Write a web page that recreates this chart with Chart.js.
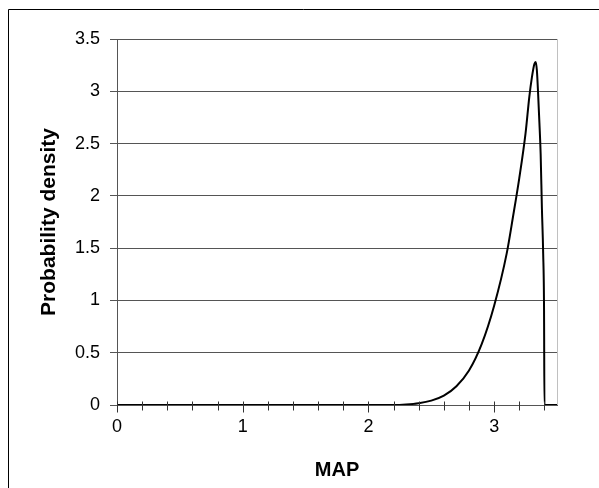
<!DOCTYPE html>
<html>
<head>
<meta charset="utf-8">
<script src="https://cdn.jsdelivr.net/npm/chart.js@4"></script>
<style>
  html, body { margin: 0; padding: 0; background: #fff; }
  canvas { display: block; }
</style>
</head>
<body>
<canvas id="densityChart" width="599" height="488"></canvas>
<script>
    // values
    const mapValues = [0, 0.5, 1, 1.5, 2, 2.2, 2.3, 2.4, 2.5, 2.6, 2.7, 2.8, 2.9, 3.0, 3.1, 3.15, 3.2,
      3.25, 3.28, 3.3, 3.32, 3.33, 3.34, 3.35, 3.36, 3.37, 3.38, 3.39, 3.397, 3.4, 3.45, 3.5];
    const densityValues = [0, 0, 0, 0, 0, 0, 0.005, 0.017, 0.042, 0.09, 0.18, 0.33, 0.58, 0.95, 1.45, 1.8, 2.17,
      2.6, 2.95, 3.13, 3.26, 3.28, 3.2, 2.97, 2.7, 2.4, 1.88, 1.45, 0.9, 0, 0, 0];
    const xTickValues = [0, 0.2, 0.4, 0.6, 0.8, 1, 1.2, 1.4, 1.6, 1.8, 2, 2.2, 2.4, 2.6, 2.8, 3, 3.2, 3.4];
    const yTickValues = [0, 0.5, 1, 1.5, 2, 2.5, 3, 3.5];

    const points = mapValues.map((x, i) => ({ x: x, y: densityValues[i] }));
    const isWhole = v => Math.abs(v - Math.round(v)) < 1e-6;

    // outer frame, plot-area right edge and the crossing x tick marks
    const framePlugin = {
      id: 'frame',
      beforeDraw(chart) {
        const ctx = chart.ctx;
        ctx.save();
        ctx.fillStyle = '#fff';
        ctx.fillRect(0, 0, chart.width, chart.height);
        ctx.strokeStyle = '#000';
        ctx.lineWidth = 1;
        ctx.beginPath();
        ctx.moveTo(8.5, chart.height);
        ctx.lineTo(8.5, 9.5);
        ctx.lineTo(chart.width, 9.5);
        ctx.stroke();
        const a = chart.chartArea;
        ctx.strokeStyle = '#c0c0c0';
        ctx.beginPath();
        ctx.moveTo(a.right + 0.5, a.top);
        ctx.lineTo(a.right + 0.5, a.bottom);
        ctx.stroke();
        ctx.restore();
      },
      afterDraw(chart) {
        const ctx = chart.ctx;
        const xs = chart.scales.x;
        const y0 = Math.round(chart.scales.y.getPixelForValue(0)) + 0.5;
        ctx.save();
        ctx.strokeStyle = '#333';
        ctx.lineWidth = 1;
        ctx.beginPath();
        xTickValues.forEach(v => {
          const px = Math.round(xs.getPixelForValue(v)) + 0.5;
          ctx.moveTo(px, y0 - 4);
          ctx.lineTo(px, y0 + (isWhole(v) ? 7 : 5));
        });
        ctx.stroke();
        ctx.restore();
      }
    };

    new Chart(document.getElementById('densityChart'), {
      type: 'line',
      data: {
        datasets: [{
          data: points,
          borderColor: '#000',
          borderWidth: 2,
          pointRadius: 0,
          fill: false,
          cubicInterpolationMode: 'monotone'
        }]
      },
      options: {
        responsive: false,
        devicePixelRatio: 1,
        animation: false,
        layout: { padding: { left: 0, top: 39, right: 42, bottom: 0 } },
        plugins: {
          legend: { display: false },
          tooltip: { enabled: false }
        },
        scales: {
          x: {
            type: 'linear',
            min: 0,
            max: 3.5,
            afterBuildTicks: s => { s.ticks = xTickValues.map(v => ({ value: v })); },
            afterFit: s => { s.height = 83; },
            grid: { display: false, drawTicks: false },
            border: { display: true, color: '#555', width: 1 },
            ticks: {
              autoSkip: false,
              maxRotation: 0,
              padding: 11,
              color: '#000',
              font: { family: 'Liberation Sans', size: 18 },
              callback: v => isWhole(v) ? String(Math.round(v)) : ''
            },
            title: {
              display: true,
              text: 'MAP',
              color: '#000',
              font: { family: 'Liberation Sans', size: 20, weight: 'bold' },
              padding: { top: 0, bottom: 6 }
            }
          },
          y: {
            min: 0,
            max: 3.5,
            afterBuildTicks: s => { s.ticks = yTickValues.map(v => ({ value: v })); },
            afterFit: s => { s.width = 117; },
            grid: { color: '#555', tickLength: 7 },
            border: { display: true, color: '#555', width: 1 },
            ticks: {
              padding: 10,
              color: '#000',
              font: { family: 'Liberation Sans', size: 18 },
              callback: v => String(v)
            },
            title: {
              display: true,
              text: 'Probability density',
              color: '#000',
              font: { family: 'Liberation Sans', size: 21, weight: 'bold' },
              padding: { top: 37, bottom: 0 }
            }
          }
        }
      },
      plugins: [framePlugin]
    });
</script>
</body>
</html>
